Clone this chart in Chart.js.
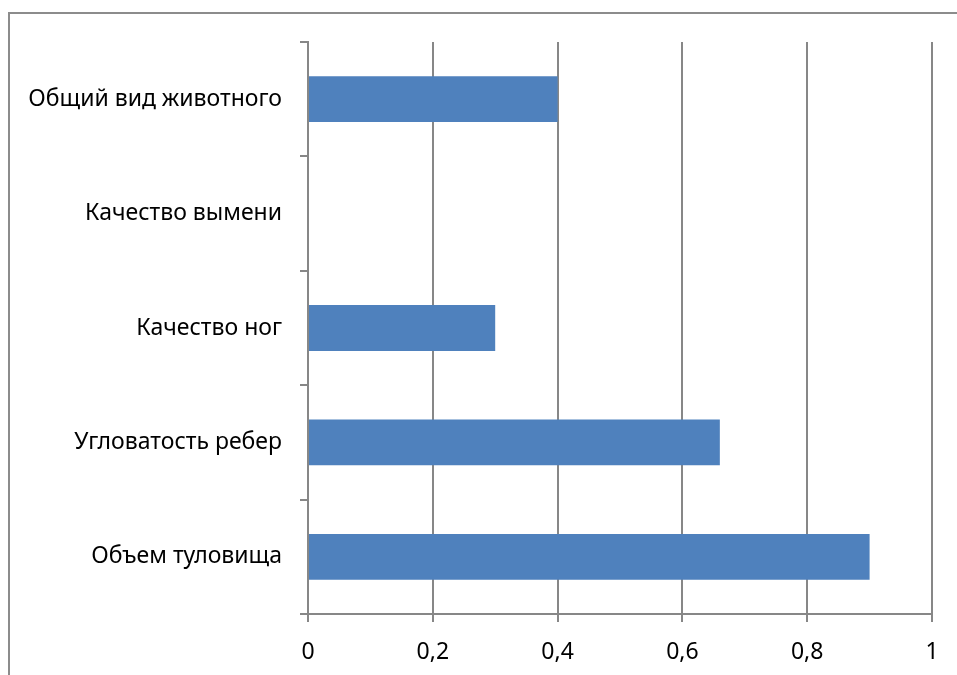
<!DOCTYPE html>
<html>
<head>
<meta charset="utf-8">
<script src="https://cdn.jsdelivr.net/npm/chart.js@4/dist/chart.umd.min.js"></script>
<style>
  html, body { margin: 0; padding: 0; background: #fff; overflow: hidden; }
  #wrap { position: relative; width: 957px; height: 675px; }
  #frame { position: absolute; left: 8px; top: 12px; width: 980px; height: 700px;
           border: 2px solid #8c8c8c; box-sizing: border-box; }
  canvas { position: absolute; left: 0; top: 0; }
</style>
</head>
<body>
<div id="wrap">
  <div id="frame"></div>
  <canvas id="c" width="957" height="675"></canvas>
</div>
<script>
// Traits, listed top to bottom as they appear on the chart
const categories = [
  'Общий вид животного',
  'Качество вымени',
  'Качество ног',
  'Угловатость ребер',
  'Объем туловища'
];
const values = [0.4, 0, 0.3, 0.66, 0.9];
const xTicks = [0, 0.2, 0.4, 0.6, 0.8, 1];

const FONT = { family: '"Noto Sans", "Liberation Sans", sans-serif', size: 23 };
const GRID = '#878787';

new Chart(document.getElementById('c'), {
  type: 'bar',
  data: {
    labels: categories,
    datasets: [{
      data: values,
      backgroundColor: '#4F81BD',
      borderWidth: 0,
      barPercentage: 0.4,
      categoryPercentage: 1.0
    }]
  },
  options: {
    indexAxis: 'y',
    responsive: false,
    animation: false,
    layout: { padding: { top: 42, right: 25, left: 0, bottom: 0 } },
    plugins: { legend: { display: false }, tooltip: { enabled: false } },
    scales: {
      x: {
        min: 0, max: 1,
        afterBuildTicks: (s) => { s.ticks = xTicks.map(v => ({ value: v })); },
        afterFit: (s) => { s.height = 61; },
        grid: { color: GRID, lineWidth: 2, tickLength: 8, drawOnChartArea: true },
        border: { color: GRID, width: 2 },
        ticks: {
          color: '#000', font: FONT, padding: 17,
          callback: (v) => String(v).replace('.', ',')
        }
      },
      y: {
        afterFit: (s) => { s.width = 308; },
        grid: { color: GRID, lineWidth: 2, tickLength: 8, drawOnChartArea: false, offset: true },
        border: { color: GRID, width: 2 },
        ticks: { color: '#000', font: FONT, padding: 18 }
      }
    }
  }
});
</script>
</body>
</html>
